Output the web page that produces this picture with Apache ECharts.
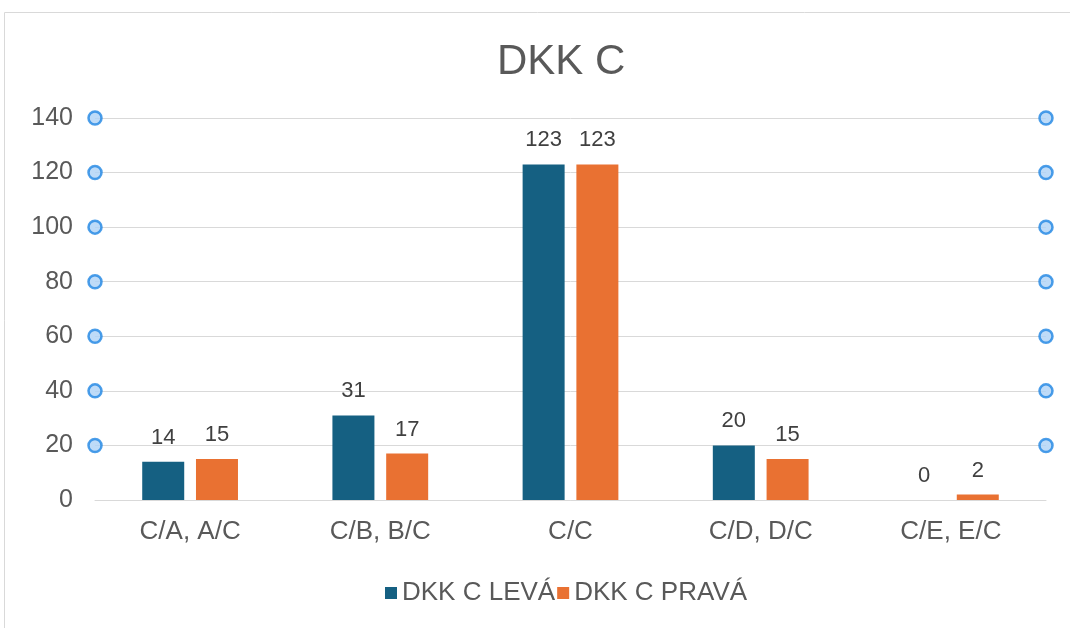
<!DOCTYPE html>
<html>
<head>
<meta charset="utf-8">
<script src="https://cdn.jsdelivr.net/npm/echarts@6/dist/echarts.min.js"></script>
<style>
  html, body { margin: 0; padding: 0; background: #fff; }
  #chart { width: 1070px; height: 628px; }
</style>
</head>
<body>
<div id="chart"></div>
<script>
const categories = ['C/A, A/C', 'C/B, B/C', 'C/C', 'C/D, D/C', 'C/E, E/C']
const levaValues = [14, 31, 123, 20, 0]
const pravaValues = [15, 17, 123, 15, 2]
const yTicks = [20, 40, 60, 80, 100, 120, 140]

const FONT = '"Liberation Sans", Arial, sans-serif'

// gridline selection handles at both ends of each gridline
const handles = []
yTicks.forEach((t) => {
  handles.push([0, t])
  handles.push([1, t])
})

const chart = echarts.init(document.getElementById('chart'))
chart.setOption({
  animation: false,
  textStyle: { fontFamily: FONT },
  graphic: [
    {
      type: 'rect',
      shape: { x: 4.5, y: 12.5, width: 1100, height: 700 },
      style: { fill: 'none', stroke: '#d9d9d9', lineWidth: 1 },
      silent: true,
      z: -10,
    },
  ],
  title: {
    text: 'DKK C',
    left: 492,
    top: 36,
    textStyle: { fontFamily: FONT, fontSize: 42, fontWeight: 'normal', color: '#595959' },
  },
  legend: {
    left: 380,
    top: 575,
    itemWidth: 12,
    itemHeight: 12,
    itemGap: 2,
    icon: 'rect',
    textStyle: { fontFamily: FONT, fontSize: 26, color: '#595959', padding: [4, 0, 0, 0] },
    data: ['DKK C LEVÁ', 'DKK C PRAVÁ'],
  },
  grid: { left: 95, right: 24, top: 118, bottom: 128 },
  xAxis: [
    {
      type: 'category',
      data: categories,
      axisLine: { show: true, lineStyle: { color: '#d9d9d9', width: 1 } },
      axisTick: { show: false },
      axisLabel: { fontFamily: FONT, fontSize: 26, color: '#595959', margin: 19 },
    },
    { type: 'value', min: 0, max: 1, show: false },
  ],
  yAxis: {
    type: 'value',
    min: 0,
    max: 140,
    interval: 20,
    axisLine: { show: false },
    axisTick: { show: false },
    axisLabel: { fontFamily: FONT, fontSize: 25, color: '#595959', margin: 22 },
    splitLine: { lineStyle: { color: '#d9d9d9', width: 1 } },
  },
  series: [
    {
      name: 'DKK C LEVÁ',
      type: 'bar',
      data: levaValues,
      barWidth: 42,
      barGap: '28%',
      itemStyle: { color: '#156082' },
      label: { show: true, position: 'top', distance: 13, fontFamily: FONT, fontSize: 22, color: '#404040' },
    },
    {
      name: 'DKK C PRAVÁ',
      type: 'bar',
      data: pravaValues,
      barWidth: 42,
      barGap: '28%',
      itemStyle: { color: '#e97132' },
      label: { show: true, position: 'top', distance: 13, fontFamily: FONT, fontSize: 22, color: '#404040' },
    },
    {
      type: 'scatter',
      xAxisIndex: 1,
      data: handles,
      symbol: 'circle',
      symbolSize: 13,
      clip: false,
      silent: true,
      itemStyle: { color: '#aed2f6', borderColor: '#1f86e4', borderWidth: 2.5 },
      z: 5,
    },
  ],
})
</script>
</body>
</html>
